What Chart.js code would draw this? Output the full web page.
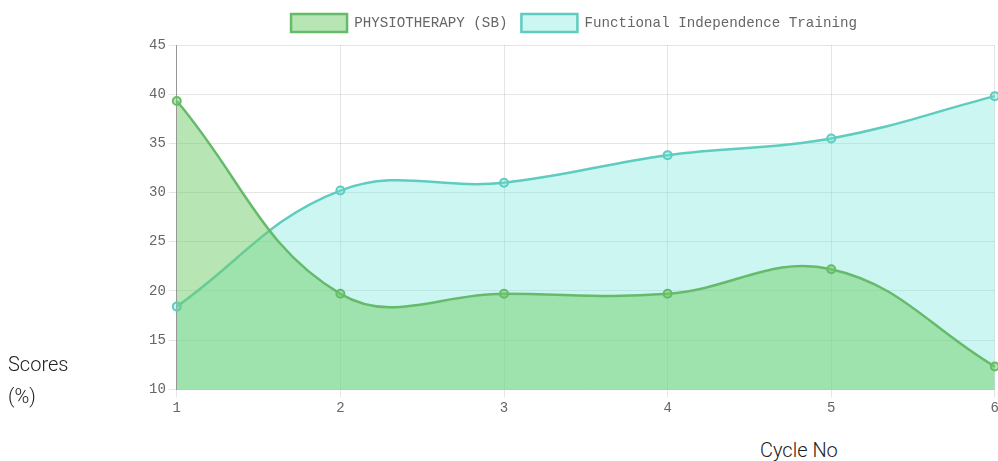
<!DOCTYPE html>
<html>
<head>
<meta charset="utf-8">
<script src="https://cdn.jsdelivr.net/npm/chart.js@4.4.0/dist/chart.umd.min.js"></script>
<style>
    body { margin: 0; background: #fff; font-family: Roboto, sans-serif; overflow: hidden; }
    #wrap { position: absolute; left: 0; top: 0; width: 1002px; height: 420px; }
    .axis-title { position: absolute; font-size: 20px; font-weight: 300; color: #222; line-height: 32px; }
</style>
</head>
<body>
<div id="wrap"><canvas id="js--chart"></canvas></div>
<div class="axis-title" style="left:8px; top:348px;">Scores<br>(%)</div>
<div class="axis-title" style="left:760px; top:434px;">Cycle No</div>
<script>
const labels = ["1", "2", "3", "4", "5", "6"];
const physio = [39.3, 19.7, 19.7, 19.7, 22.2, 12.3];
const independence = [18.4, 30.2, 31.0, 33.8, 35.5, 39.8];

const data = {
    labels: labels,
    datasets: [{
        label: "PHYSIOTHERAPY (SB)",
        data: physio,
        borderColor: 'rgb(102,187,106)',
        backgroundColor: 'rgba(112,206,106,0.5)',
        pointBackgroundColor: 'rgba(112,206,106,0.5)',
        borderWidth: 2.5,
        pointRadius: 4,
        pointBorderWidth: 2,
        tension: 0.4,
        fill: 'start'
    }, {
        label: "Functional Independence Training",
        data: independence,
        borderColor: 'rgb(94,204,190)',
        backgroundColor: 'rgba(110,230,218,0.35)',
        pointBackgroundColor: 'rgba(110,230,218,0.35)',
        borderWidth: 2.5,
        pointRadius: 4,
        pointBorderWidth: 2,
        tension: 0.4,
        fill: 'start'
    }]
};

const monoFont = { family: "'Liberation Mono', 'DejaVu Sans Mono', monospace", size: 14 };

// a little more room under the legend
const legendGap = {
    id: 'legendGap',
    beforeInit(chart) {
        const fit = chart.legend.fit;
        chart.legend.fit = function () {
            fit.bind(chart.legend)();
            this.height += 3;
        };
    }
};

const config = {
    type: 'line',
    data: data,
    options: {
        responsive: true,
        maintainAspectRatio: false,
        animation: false,
        layout: { padding: { left: 146, right: 0, top: 0, bottom: 0 } },
        plugins: {
            legend: {
                labels: {
                    font: { family: monoFont.family, size: 14.2 },
                    color: '#666',
                    boxWidth: 56,
                    boxHeight: 18,
                    padding: 14
                }
            },
            tooltip: { enabled: false }
        },
        scales: {
            x: {
                grid: { color: 'rgba(0,0,0,0.1)' },
                border: { color: 'rgba(0,0,0,0.15)' },
                ticks: { font: monoFont, color: '#666' }
            },
            y: {
                min: 10,
                max: 45,
                grid: { color: 'rgba(0,0,0,0.1)' },
                border: { color: 'rgba(0,0,0,0.35)' },
                ticks: { stepSize: 5, font: monoFont, color: '#666' }
            }
        }
    },
    plugins: [legendGap]
};

new Chart(document.getElementById("js--chart"), config);
</script>
</body>
</html>
